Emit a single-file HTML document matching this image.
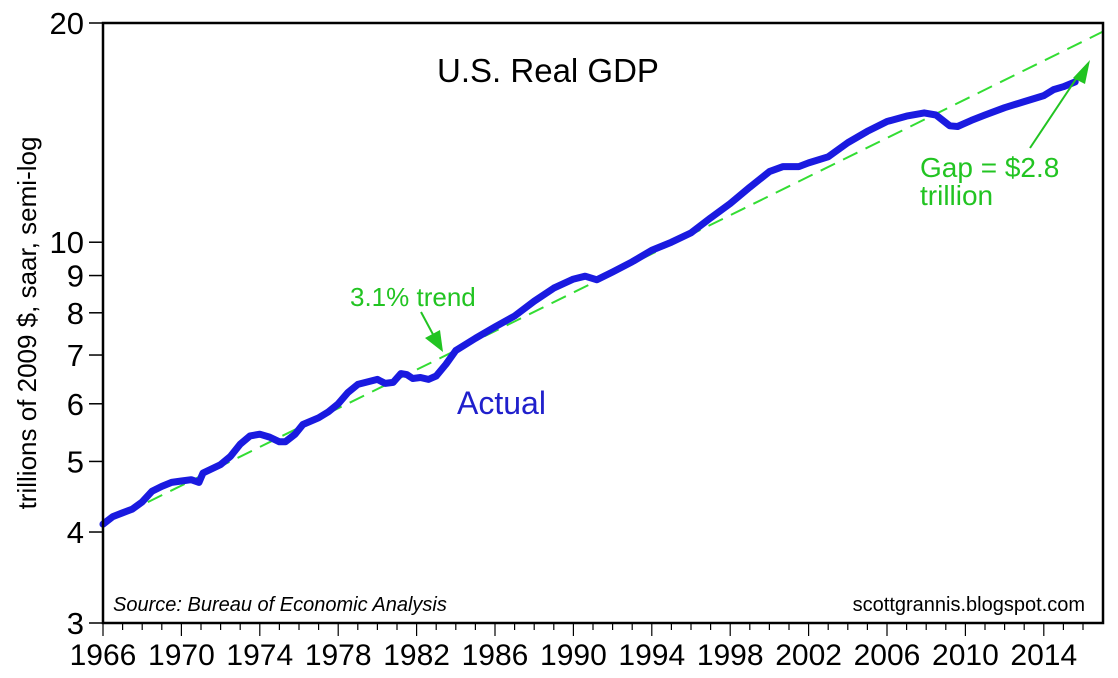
<!DOCTYPE html>
<html><head><meta charset="utf-8"><style>
html,body{margin:0;padding:0;background:#fff;}
svg{display:block;font-family:"Liberation Sans",sans-serif;}
</style></head><body>
<svg id="s" width="1118" height="678" viewBox="0 0 1118 678" xmlns="http://www.w3.org/2000/svg">
<rect width="1118" height="678" fill="#fff"/>
<g id="g"></g>
<rect x="103" y="23" width="1000" height="600" fill="none" stroke="#000" stroke-width="2.5"/>
<text x="548" y="82" font-size="33" text-anchor="middle" fill="#000">U.S. Real GDP</text>
<text x="113" y="611" font-size="20" font-style="italic" fill="#000">Source:  Bureau of Economic Analysis</text>
<text x="1085" y="611" font-size="20" text-anchor="end" fill="#000">scottgrannis.blogspot.com</text>
<text x="457" y="414" font-size="32" fill="#2020cc">Actual</text>
<text x="350" y="306" font-size="26" fill="#22c422">3.1% trend</text>
<line x1="421" y1="312" x2="436" y2="340" stroke="#22c422" stroke-width="2"/>
<polygon points="443,352 425,338 440,330" fill="#22c422"/>
<text x="920" y="177" font-size="28" fill="#22c422">Gap = $2.8</text>
<text x="920" y="205" font-size="28" fill="#22c422">trillion</text>
<line x1="1030" y1="148" x2="1078" y2="76" stroke="#22c422" stroke-width="2"/>
<polygon points="1090,60 1073,78 1085,84" fill="#22c422"/>
<text transform="translate(36,323) rotate(-90)" font-size="26" text-anchor="middle" fill="#000">trillions of 2009 $, saar, semi-log</text>
</svg>
<script>
const g=document.getElementById('g'),NS='http://www.w3.org/2000/svg';
const X=y=>103+(y-1966)*19.6, Y=v=>23+600*Math.log(20/v)/Math.log(20/3);
function el(t,a,txt){const e=document.createElementNS(NS,t);for(const k in a)e.setAttribute(k,a[k]);if(txt)e.textContent=txt;g.appendChild(e);return e;}
[3,4,5,6,7,8,9,10,20].forEach(v=>{el('line',{x1:89,x2:103,y1:Y(v),y2:Y(v),stroke:'#000','stroke-width':1.5});
el('text',{x:84,y:Y(v)+11,'font-size':31,'text-anchor':'end',fill:'#000'},String(v));});
for(let y=1966;y<=2016;y++){const big=(y-1966)%4==0;el('line',{x1:X(y),x2:X(y),y1:623,y2:big?636:630,stroke:'#000','stroke-width':1.2});
if(big)el('text',{x:X(y),y:665,'font-size':30,'text-anchor':'middle',fill:'#000'},String(y));}
el('line',{x1:X(1966),y1:Y(4.1),x2:X(2017),y2:Y(4.1*Math.pow(1.031,51)),stroke:'#33dd33','stroke-width':2,'stroke-dasharray':'16,9'});
const d=[[1966,4.1],[1966.5,4.2],[1967,4.25],[1967.5,4.3],[1968,4.4],[1968.5,4.55],[1969,4.62],[1969.5,4.68],[1970,4.70],[1970.5,4.72],[1970.9,4.68],[1971.1,4.82],[1972,4.95],[1972.5,5.08],[1973,5.28],[1973.5,5.42],[1974,5.45],[1974.5,5.4],[1975,5.32],[1975.3,5.32],[1975.8,5.45],[1976.2,5.62],[1977,5.74],[1977.5,5.85],[1978,6.0],[1978.5,6.22],[1979,6.38],[1980,6.48],[1980.4,6.4],[1980.8,6.42],[1981.2,6.6],[1981.5,6.58],[1981.8,6.5],[1982.2,6.52],[1982.6,6.48],[1983,6.55],[1983.5,6.8],[1984,7.1],[1985,7.38],[1986,7.65],[1987,7.92],[1988,8.3],[1989,8.65],[1990,8.9],[1990.6,8.98],[1991.2,8.88],[1992,9.1],[1993,9.4],[1994,9.75],[1995,10.0],[1996,10.3],[1997,10.8],[1998,11.3],[1999,11.9],[2000,12.5],[2000.7,12.7],[2001.5,12.7],[2002,12.85],[2003,13.1],[2004,13.7],[2005,14.2],[2006,14.65],[2007,14.9],[2007.9,15.05],[2008.5,14.95],[2009.2,14.45],[2009.6,14.42],[2010.3,14.7],[2011,14.95],[2012,15.3],[2013,15.6],[2014,15.9],[2014.5,16.2],[2015,16.35],[2015.6,16.6]];
el('polyline',{points:d.map(p=>X(p[0]).toFixed(1)+','+Y(p[1]).toFixed(1)).join(' '),fill:'none',stroke:'#1a1ae0','stroke-width':7,'stroke-linejoin':'round','stroke-linecap':'round'});
</script>
</body></html>
